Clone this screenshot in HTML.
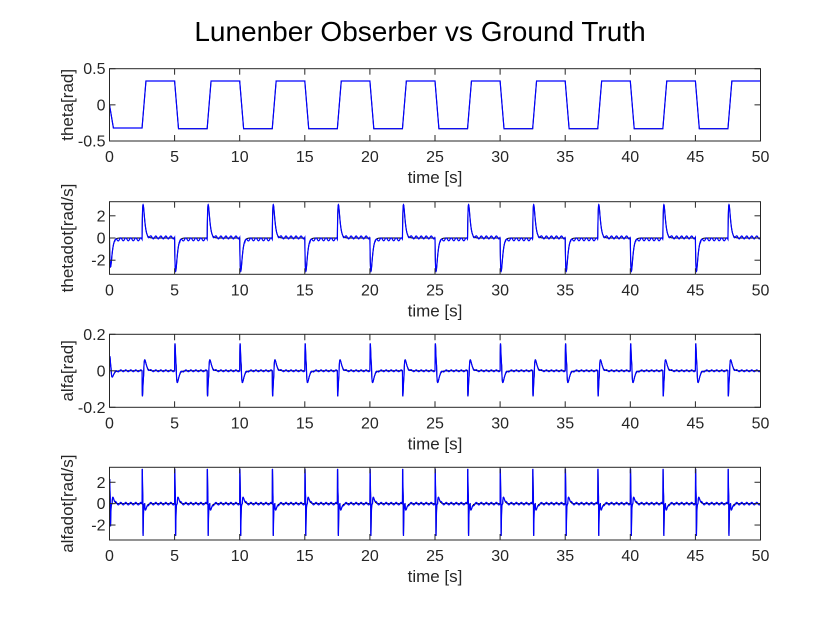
<!DOCTYPE html>
<html><head><meta charset="utf-8"><style>
html,body{margin:0;padding:0;background:#fff;}
svg{display:block;font-family:"Liberation Sans",Arial,sans-serif;}
</style></head><body>
<svg id="fig" width="840" height="630" viewBox="0 0 840 630">
<rect width="840" height="630" fill="#fff"/>
<text x="420" y="41" font-size="28" text-anchor="middle" fill="#000">Lunenber Obserber vs Ground Truth</text>
</svg>
<script>
// ---- data ----
const stepTimes = [0, 2.5, 5, 7.5, 10, 12.5, 15, 17.5, 20, 22.5, 25, 27.5, 30, 32.5, 35, 37.5, 40, 42.5, 45, 47.5];
const thetaLevels = [-0.32, 0.33, -0.33, 0.33, -0.33, 0.33, -0.33, 0.33, -0.33, 0.33, -0.33, 0.33, -0.33, 0.33, -0.33, 0.33, -0.33, 0.33, -0.33, 0.33];
const thetadotPeaks = [-2.6, 3.0, -3.0, 3.0, -3.0, 3.0, -3.0, 3.0, -3.0, 3.0, -3.0, 3.0, -3.0, 3.0, -3.0, 3.0, -3.0, 3.0, -3.0, 3.0];
const alfaPeaks = [0.08, -0.14, 0.15, -0.14, 0.15, -0.14, 0.15, -0.14, 0.15, -0.14, 0.15, -0.14, 0.15, -0.14, 0.15, -0.14, 0.15, -0.14, 0.15, -0.14];
const alfadotPeaks = [2.4, 3.4, 3.4, 3.4, 3.4, 3.4, 3.4, 3.4, 3.4, 3.4, 3.4, 3.4, 3.4, 3.4, 3.4, 3.4, 3.4, 3.4, 3.4, 3.4];
const xTicks = [0, 5, 10, 15, 20, 25, 30, 35, 40, 45, 50];
const yLabels = ["theta[rad]", "thetadot[rad/s]", "alfa[rad]", "alfadot[rad/s]"];
const yTicks = [[-0.5, 0, 0.5], [-2, 0, 2], [-0.2, 0, 0.2], [-2, 0, 2]];
const yTickText = [["-0.5", "0", "0.5"], ["-2", "0", "2"], ["-0.2", "0", "0.2"], ["-2", "0", "2"]];
const yRanges = [[-0.5, 0.5], [-3.27, 3.27], [-0.2, 0.2], [-3.4, 3.4]];

const NS = "http://www.w3.org/2000/svg";
const svg = document.getElementById('fig');
const X0 = 109.5, X1 = 760.5, T0 = 0, T1 = 50;
const tops = [68.7, 201.7, 334.3, 467.3], bots = [141, 274.3, 407.3, 540];
function xs(t){ return X0 + (t - T0) / (T1 - T0) * (X1 - X0); }
function ysF(i){ const [a,b] = yRanges[i]; return v => bots[i] - (v - a) / (b - a) * (bots[i] - tops[i]); }
function el(tag, attrs, parent){ const e = document.createElementNS(NS, tag); for (const k in attrs) e.setAttribute(k, attrs[k]); (parent||svg).appendChild(e); return e; }
function g(d, w){ return d <= 0 ? 0 : (d / w) * Math.exp(1 - d / w); }

function stepIndex(t){ let k = 0; for (let i = 0; i < stepTimes.length; i++) if (t >= stepTimes[i]) k = i; return k; }
function theta(t){
  const k = stepIndex(t); const prev = k === 0 ? 0 : thetaLevels[k-1];
  const d = t - stepTimes[k], r = 0.3;
  return d < r ? prev + (thetaLevels[k] - prev) * d / r : thetaLevels[k];
}
function thetadot(t, est){
  const k = stepIndex(t), d = t - stepTimes[k];
  let v = thetadotPeaks[k] * g(d, 0.08);
  if (est) v += 0.13 * Math.sin(2 * Math.PI * 2.6 * t) * (d > 0.4 ? 1 : 0) + (thetaLevels[k] < 0 ? -0.12 : 0.05) * (d > 0.4 ? 1 : 0);
  return v;
}
function alfa(t, est){
  const k = stepIndex(t), d = t - stepTimes[k];
  const a = alfaPeaks[k];
  let v = a * g(d, 0.03) - a * 0.45 * g(d - 0.12, 0.08);
  if (est && d > 0.4) v += 0.005 * Math.sin(2 * Math.PI * 2.6 * t);
  return v;
}
function alfadot(t, est){
  const k = stepIndex(t), d = t - stepTimes[k];
  const a = alfadotPeaks[k], s = k % 2 === 0 ? 1 : -1;
  let v = a * g(d, 0.015) - a * g(d - 0.06, 0.015) + s * 0.6 * g(d - 0.2, 0.06);
  if (est && d > 0.4) v += 0.12 * Math.sin(2 * Math.PI * 2.6 * t);
  return v;
}
const funcs = [theta, thetadot, alfa, alfadot];

for (let i = 0; i < 4; i++){
  const ys = ysF(i), top = tops[i], bot = bots[i];
  const grp = el('g', {}, svg);
  
  
  const clip = el('clipPath', {id: 'c' + i}, grp);
  el('rect', {x: X0, y: top, width: X1 - X0, height: bot - top}, clip);
  const bg = el('rect', {x: X0, y: top, width: X1 - X0, height: bot - top, fill: '#fff'}, grp);
  
  
  // lines
  const dt = 0.01;
  let pTrue = '', pEst = '';
  for (let t = 0; t <= 50.0001; t += dt){
    const f = funcs[i];
    pTrue += (t === 0 ? 'M' : 'L') + xs(t).toFixed(2) + ',' + ys(f(t, false)).toFixed(2);
    pEst += (t === 0 ? 'M' : 'L') + xs(t).toFixed(2) + ',' + ys(f(t, true)).toFixed(2);
  }
  const lt = el('path', {d: pTrue, fill: 'none', stroke: '#000', 'stroke-width': 1, 'clip-path': 'url(#c' + i + ')'}, grp);
  
  
  const le = el('path', {d: pEst, fill: 'none', stroke: '#0000ff', 'stroke-width': 1.2, 'clip-path': 'url(#c' + i + ')'}, grp);
  
  
  // frame
  el('rect', {x: X0, y: top, width: X1 - X0, height: bot - top, fill: 'none', stroke: '#262626', 'stroke-width': 1}, grp);
  // x ticks
  xTicks.forEach(v => {
    const x = xs(v);
    el('line', {x1: x, x2: x, y1: bot, y2: bot - 6, stroke: '#262626'}, grp);
    el('line', {x1: x, x2: x, y1: top, y2: top + 6, stroke: '#262626'}, grp);
    const tx = el('text', {x: x, y: bot + 21, 'font-size': 16, 'text-anchor': 'middle', fill: '#262626'}, grp);
    tx.textContent = v;
    
    
  });
  yTicks[i].forEach((v, j) => {
    const y = ys(v);
    el('line', {x1: X0, x2: X0 + 6, y1: y, y2: y, stroke: '#262626'}, grp);
    el('line', {x1: X1, x2: X1 - 6, y1: y, y2: y, stroke: '#262626'}, grp);
    const ty = el('text', {x: X0 - 4, y: y + 5.5, 'font-size': 16, 'text-anchor': 'end', fill: '#262626'}, grp);
    ty.textContent = yTickText[i][j];
    
    
  });
  const xl = el('text', {x: 435, y: bot + 42, 'font-size': 17, 'text-anchor': 'middle', fill: '#262626'}, grp);
  xl.textContent = 'time [s]';
  
  
  const cy = (top + bot) / 2;
  const yl = el('text', {x: 0, y: 0, 'font-size': 17, 'text-anchor': 'middle', fill: '#262626', transform: 'translate(73,' + cy + ') rotate(-90)'}, grp);
  yl.textContent = yLabels[i];
  
  
}
</script>
</body></html>
